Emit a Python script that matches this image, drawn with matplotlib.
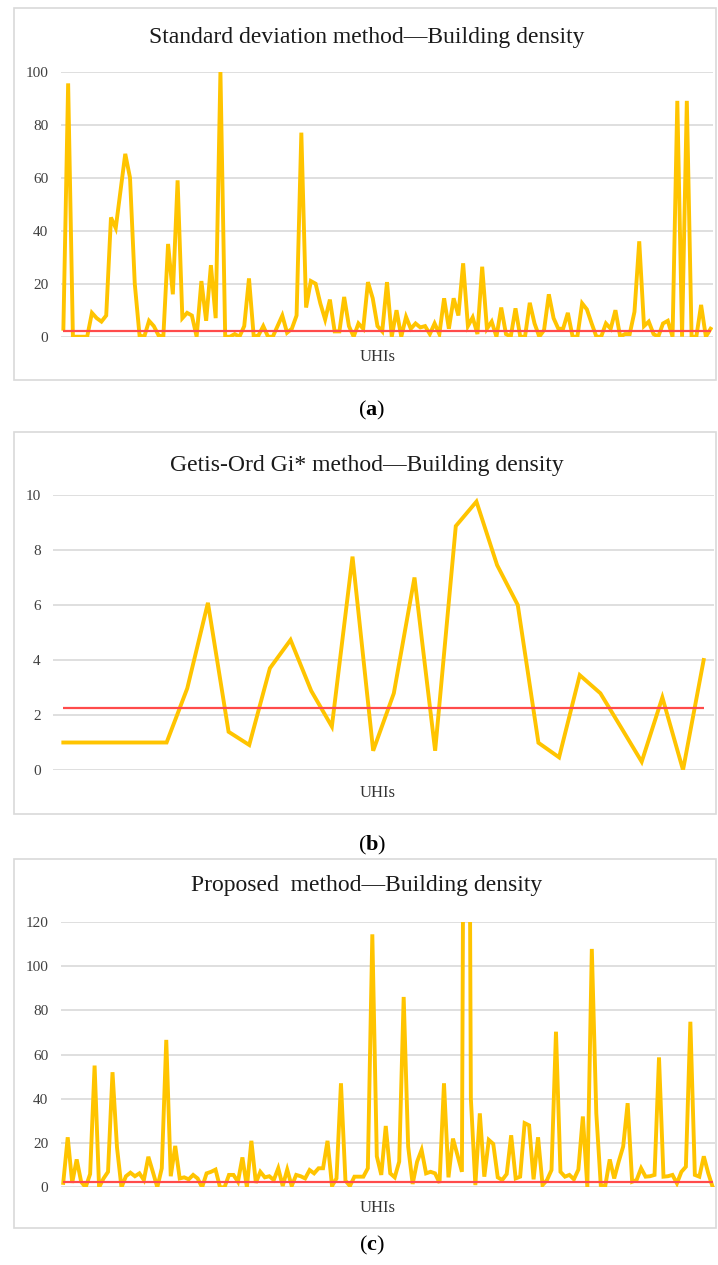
import numpy as np
import matplotlib
matplotlib.use('Agg')
import matplotlib.pyplot as plt
from matplotlib.patches import Rectangle

plt.rcParams['font.family'] = ['Liberation Serif', 'DejaVu Serif']
plt.rcParams['mathtext.fontset'] = 'custom'
plt.rcParams['mathtext.bf'] = 'Liberation Serif:bold'
plt.rcParams['mathtext.rm'] = 'Liberation Serif'

# Standard deviation method - building density per UHI
sd_values = [3, 95.6, 0, 0, 0, 0, 9, 7, 5.7, 8, 45, 41, 55, 69, 60, 20, 0.5, 0, 6, 4,
             0.5, 0, 35, 16, 59, 7, 9, 8, 0, 21, 6, 27, 7, 100, 0, 0, 1, 0, 4, 22,
             0, 0.5, 4, 0, 0, 4, 8, 1.5, 3, 8, 77, 11, 21, 20, 12.5, 6.5, 14, 2, 2, 15,
             4, 0, 5, 3, 20.6, 14.5, 4, 2, 20.6, 0, 10, 0, 7.5, 3, 5, 3.5, 4, 1, 5, 1,
             14.5, 3, 14.5, 8, 27.7, 4, 7.3, 1, 26.4, 3, 5.7, 0, 11, 1, 0, 10.7, 0, 0, 12.8, 5,
             0, 2.5, 16, 7, 3, 3, 9, 0, 0, 12.6, 10.3, 5, 0, 0, 5, 3, 10, 0, 1, 1,
             9.4, 36, 4, 5.7, 1, 0, 5, 6, 0, 89, 0, 89, 0, 0, 12, 0, 3]
sd_threshold = 2.2

# Getis-Ord Gi* method - building density per UHI
gi_values = [1, 1, 1, 1, 1, 1, 2.97, 6.08, 1.39, 0.91, 3.7, 4.73, 2.88, 1.58, 7.76, 0.7,
             2.79, 7.0, 0.7, 8.87, 9.76, 7.45, 6.0, 0.99, 0.46, 3.45, 2.79, 1.55, 0.3, 2.64, 0, 4.0]
gi_threshold = 2.27

# Proposed method - building density per UHI
pm_values = [2, 22.6, 2, 12.6, 2.5, 0, 6, 55, 0, 4, 7, 52, 18, 0, 5, 6.6, 5, 6.3, 3.3, 13.8,
             7, 0, 8.6, 66.6, 5, 18.7, 4, 4.5, 3.6, 5.6, 4, 0, 6.3, 7, 8, 0, 0, 5.6, 5.6, 2.5,
             13.5, 0, 21, 2, 7, 4.5, 5, 3.3, 8.6, 0.6, 8, 0.6, 5.6, 5, 4, 7.8, 6.3, 8.6, 8.6, 21,
             0.6, 4, 47, 3, 0.6, 4.8, 4.8, 4.8, 8.6, 114.3, 14, 5.6, 27.7, 6.3, 4.5, 11.6, 86, 18.4, 1.5, 11.6,
             16.9, 6.3, 7, 6.3, 2, 47, 4.5, 22, 14.6, 7, 500, 40, 1, 33.4, 4.8, 21.4, 19.6, 4.5, 3.3, 6,
             23.5, 4, 4.8, 29, 28, 3.6, 22.6, 1, 3.3, 7.8, 70.3, 7, 4.8, 5.6, 3.6, 8, 32, 0, 107.7, 33.4,
             1, 0.6, 12.6, 4, 11.6, 18.4, 38, 2.5, 3.3, 8.6, 4.8, 5, 5.6, 58.7, 4.8, 5, 5.6, 1.8, 7, 9.3,
             74.8, 5.6, 4.8, 14, 6.3, 0]
pm_threshold = 2.27

titles = ['Standard deviation method\u2014Building density',
          'Getis-Ord Gi* method\u2014Building density',
          'Proposed  method\u2014Building density']
captions = ['($\\mathbf{a}$)', '($\\mathbf{b}$)', '($\\mathbf{c}$)']

W, H = 718, 1265
YELLOW = '#FFC400'
RED = '#FF4B4B'
GRID = '#D9D9D9'
TICK = '#404040'

def pxbox(x0, y0, x1, y1):
    return [x0 / W, 1 - y1 / H, (x1 - x0) / W, (y1 - y0) / H]

fig = plt.figure(figsize=(W / 100, H / 100), dpi=100)

panels = [
    # values, threshold, ymax, ystep, axes box, frame box, title y, xlabel y, caption y
    (sd_values, sd_threshold, 100, 20, (61, 71.7, 713, 336.7), (14, 8, 716, 380), 38, 357, 410),
    (gi_values, gi_threshold, 10, 2, (53, 495, 714, 770), (14, 432, 716, 814), 465, 793, 845),
    (pm_values, pm_threshold, 120, 20, (61, 921.7, 715, 1187.3), (14, 859, 716, 1228), 886, 1208, 1245),
]

for i, (vals, thr, ymax, ystep, abox, fbox, ty, xy, cy) in enumerate(panels):
    fx0, fy0, fx1, fy1 = fbox
    fig.patches.append(Rectangle((fx0 / W, 1 - fy1 / H), (fx1 - fx0) / W, (fy1 - fy0) / H,
                                 transform=fig.transFigure, fill=False,
                                 edgecolor=GRID, linewidth=1.2))
    ax = fig.add_axes(pxbox(*abox))
    n = len(vals)
    x = np.arange(n)
    ax.plot(x, vals, color=YELLOW, linewidth=2.8, solid_joinstyle='miter', zorder=3)
    ax.hlines(thr, 0, n - 1, color=RED, linewidth=1.6, zorder=4)
    ax.set_xlim(-0.5, n - 0.5)
    ax.set_ylim(0, ymax)
    ax.set_yticks(np.arange(0, ymax + ystep / 2, ystep))
    ax.set_xticks([])
    ax.yaxis.grid(True, color=GRID, linewidth=1.2)
    ax.set_axisbelow(True)
    for s in ax.spines.values():
        s.set_visible(False)
    ax.tick_params(axis='y', length=0, pad=9, labelsize=11, labelcolor=TICK)
    ax.patch.set_alpha(0)
    fig.text(367 / W, 1 - ty / H, titles[i], ha='center', va='center', fontsize=17, color='#1a1a1a')
    fig.text(378 / W, 1 - xy / H, 'UHIs', ha='center', va='center', fontsize=12, color='#333333')
    fig.text(372 / W, 1 - cy / H, captions[i], ha='center', va='center', fontsize=16, color='black')

fig.savefig('out.png', dpi=100, facecolor='white')
